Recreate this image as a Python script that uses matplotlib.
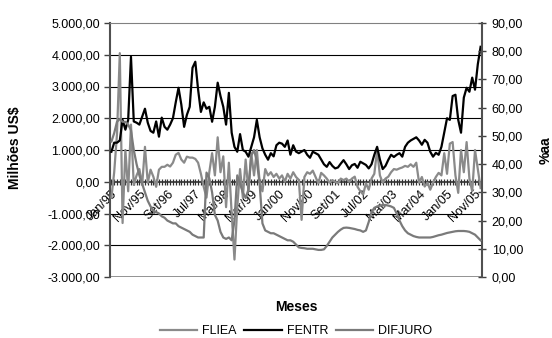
import matplotlib
matplotlib.use("Agg")
import matplotlib.pyplot as plt
from matplotlib.ticker import FuncFormatter, MultipleLocator

plt.rcParams['font.family'] = ['Liberation Sans', 'DejaVu Sans']
plt.rcParams['font.size'] = 9

# monthly data, Jan/95 .. Jan/06
fliea = [-500, 300, 1500, 4050, -1300, 1000, -300, 1800, -100, 200, 400, -100,
         1100, -30, 380, 160, -160, 380, 470, 470, 535, 480, 600, 850,
         910, 700, 600, 790, 760, 760, 720, 600, 250, -160, -500, 300,
         900, 200, 1400, 300, 800, -800, 600, -1000, -2450, -800, 400, -500,
         700, -300, 900, 200, 1000, 0, -300, 400, 200, 300, 150, 250,
         100, 200, 0, 250, 100, 300, 150, 60, -1200, 150, 300, 250,
         350, 150, -50, 280, 200, 100, -30, 50, 0, -50, 100, 50,
         100, 0, 100, 160, -160, -300, -400, -50, -250, 100, 250, 1000,
         200, -30, 100, 160, 300, 400, 380, 420, 450, 500, 470, 550,
         470, 600, -30, 150, -150, -30, -250, -30, 150, 280, 200, 900,
         250, 1200, 1250, 200, -350, 1000, 300, 1250, 100, -300, 1000, 400,
         -200]

fentr = [945, 1230, 1230, 1300, 1950, 1640, 1950, 3940, 1900, 1860, 1800, 2050,
         2300, 1860, 1600, 1545, 1900, 1420, 2020, 1730, 1640, 1800, 2000, 2500,
         2960, 2430, 1730, 2110, 2360, 3590, 3780, 2900, 2200, 2500, 2300, 2360,
         1890, 2360, 3120, 2700, 2360, 1800, 2800, 1545, 1100, 945, 1500, 1000,
         945, 790, 1100, 1400, 1950, 1400, 1050, 850, 695, 900, 800, 1150,
         1230, 1200, 1100, 1300, 850, 1150, 950, 900, 950, 1000, 850, 755,
         945, 900, 850, 700, 550, 470, 620, 500, 420, 450, 570, 680,
         550, 400, 520, 560, 440, 630, 580, 530, 420, 550, 850, 1100,
         700, 400, 500, 690, 850, 780, 850, 900, 790, 1100, 1230, 1300,
         1350, 1400, 1300, 1165, 1320, 1230, 945, 790, 910, 850, 1100, 1545,
         2000, 1950, 2700, 2740, 1950, 1545, 2650, 2960, 2835, 3280, 2900, 3700,
         4250]

difjuro = [48, 51, 55, 56, 55, 55, 54, 52, 45, 40, 36, 33,
           30, 27, 25, 23.5, 23, 22.5, 21.5, 21, 20, 19.5, 19, 19,
           18, 17.5, 17, 16.5, 16, 15, 14.5, 14, 14, 14, 37, 35,
           30, 22, 20, 16, 14, 13.5, 14, 13, 20, 36, 33, 30,
           28, 31, 43, 45, 41, 33, 19, 16.5, 16, 15.5, 15.5, 15,
           14.5, 14, 13.5, 13, 13, 12.5, 11.5, 10.5, 10.3, 10.2, 10, 10,
           10, 9.8, 9.6, 9.6, 9.8, 11, 12.5, 14, 15, 16, 16.8, 17.4,
           17.5, 17.4, 17.2, 17, 16.7, 16.5, 16, 16.5, 19.5, 23, 24.5, 25,
           25.3, 25.5, 25.5, 25.3, 25, 24.5, 22.5, 20, 18, 16.5, 15.5, 15,
           14.5, 14.2, 14, 14, 14, 14, 14, 14.2, 14.5, 14.8, 15, 15.3,
           15.6, 15.8, 16, 16.2, 16.3, 16.3, 16.3, 16.2, 16, 15.5, 15, 14,
           13]

xlabels = ['Jan/95', 'Nov/95', 'Set/96', 'Jul/97', 'Mai/98', 'Mar/99', 'Jan/00',
           'Nov/00', 'Set/01', 'Jul/02', 'Mai/03', 'Mar/04', 'Jan/05', 'Nov/05']

n = len(fentr)
x = list(range(n))


def br(v, pos):
    s = f"{v:,.2f}"
    return s.replace(',', 'X').replace('.', ',').replace('X', '.')


fig = plt.figure(figsize=(5.52, 3.38), dpi=100)
ax = fig.add_axes([110/552, 1-277/338, 372/552, 254/338])
ax2 = ax.twinx()

l1, = ax.plot(x, fliea, color='#8a8a8a', lw=1.6, label='FLIEA', zorder=3)
l2, = ax.plot(x, fentr, color='black', lw=1.6, label='FENTR', zorder=4)
l3, = ax2.plot(x, difjuro, color='#7a7a7a', lw=1.6, label='DIFJURO', zorder=3)

ax.set_xlim(-0.5, n - 0.5)
ax.set_ylim(-3000, 5000)
ax2.set_ylim(0, 90)

# grid
for v in [-2000, -1000, 1000, 2000, 3000, 4000]:
    ax.axhline(v, color='black', lw=0.8, zorder=1)
ax.axhline(-3000, color='#808080', lw=1.2, zorder=1)

ax.set_yticks(range(-3000, 5001, 1000))
ax.yaxis.set_major_formatter(FuncFormatter(br))
ax.tick_params(axis='y', direction='out', length=4, width=1, color='#404040', pad=3)

ax2.set_yticks(range(0, 91, 10))
ax2.yaxis.set_major_formatter(FuncFormatter(lambda v, p: f"{v:.2f}".replace('.', ',')))
ax2.tick_params(axis='y', direction='inout', length=6, width=1, color='#404040', pad=4)

# category axis at zero
ax.spines['bottom'].set_position(('data', 0))
ax.spines['bottom'].set_color('#303030')
ax.spines['bottom'].set_linewidth(1.2)
ax.spines['bottom'].set_zorder(2)
ax.set_xticks(range(0, n, 10))
ax.set_xticklabels(xlabels[:len(range(0, n, 10))], rotation=45, ha='right',
                   va='top', rotation_mode='anchor')
ax.xaxis.set_minor_locator(MultipleLocator(1))
ax.tick_params(axis='x', which='both', direction='inout', length=5, width=0.9,
               color='#303030', pad=2)

ax.spines['top'].set_color('#808080')
ax.spines['left'].set_color('#505050')
ax.spines['left'].set_linewidth(1.5)
ax.spines['right'].set_visible(False)
for s in ['top', 'bottom', 'left']:
    ax2.spines[s].set_visible(False)
ax2.spines['right'].set_color('#505050')
ax2.spines['right'].set_linewidth(1.5)

fig.text(15/552, 1-148/338, 'Milhões US$', rotation=90, ha='center', va='center',
         fontsize=10, fontweight='bold')
fig.text(546/552, 1-150/338, '%aa', rotation=90, ha='center', va='center',
         fontsize=10, fontweight='bold')
fig.text(296/552, 1-307/338, 'Meses', ha='center', va='center',
         fontsize=10, fontweight='bold')

fig.legend([l1, l2, l3], ['FLIEA', 'FENTR', 'DIFJURO'], loc='center',
           bbox_to_anchor=(296/552, 1-331/338), ncol=3, frameon=False,
           handlelength=3.0, handletextpad=0.4, columnspacing=0.6, fontsize=9)

fig.savefig('out.png', dpi=100)
